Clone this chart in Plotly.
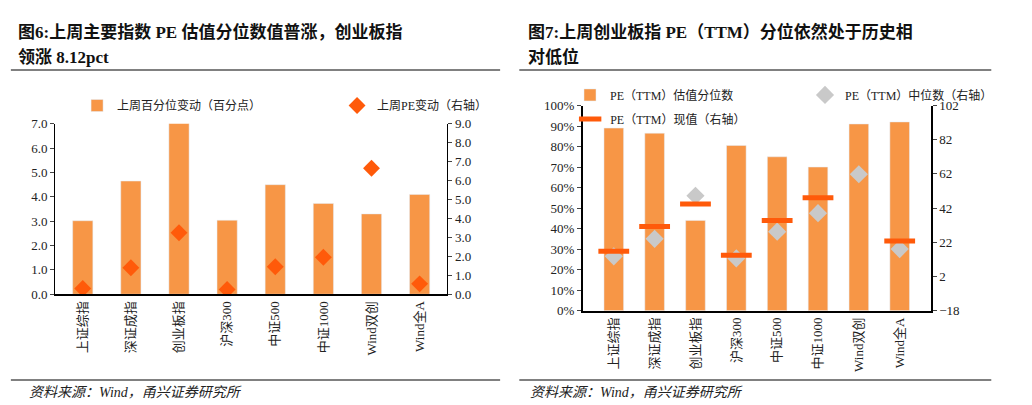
import plotly.graph_objects as go

cats = ["上证综指", "深证成指", "创业板指", "沪深300", "中证500", "中证1000", "Wind双创", "Wind全A"]
pct_change = [3.02, 4.65, 8.12, 3.04, 4.50, 3.73, 3.30, 4.10]
pe_change = [0.30, 1.40, 3.25, 0.25, 1.45, 1.95, 6.65, 0.55]
pe_pct = [0.89, 0.865, 0.44, 0.805, 0.75, 0.70, 0.91, 0.92]
pe_median = [13.8, 24.0, 49.2, 12.6, 28.2, 39.0, 61.8, 18.0]
pe_now = [16.8, 31.2, 44.4, 14.4, 34.8, 48.0, None, 22.8]

W, H = 1032, 405
def px(x): return x / W
def py(y): return 1 - y / H

BAR = "#F79646"
RED = "#FF5A0A"
FONT = "Liberation Serif, Noto Sans CJK SC"

fig = go.Figure()
fig.add_bar(x=cats, y=pct_change, name="上周百分位变动（百分点）", marker_color=BAR,
            width=0.42, xaxis="x", yaxis="y", legend="legend")
fig.add_scatter(x=cats, y=pe_change, name="上周PE变动（右轴）", mode="markers",
                marker=dict(symbol="diamond", size=13, color=RED), xaxis="x", yaxis="y2", legend="legend")
fig.add_bar(x=cats, y=pe_pct, name="PE（TTM）估值分位数", marker_color=BAR,
            width=0.48, xaxis="x3", yaxis="y3", legend="legend2")
fig.add_scatter(x=cats, y=pe_median, name="PE（TTM）中位数（右轴）", mode="markers",
                marker=dict(symbol="diamond", size=14, color="#C9C9C9"), xaxis="x3", yaxis="y4", legend="legend2")
fig.add_scatter(x=cats, y=pe_now, name="PE（TTM）现值（右轴）", mode="markers",
                marker=dict(symbol="line-ew", size=22, line=dict(width=5, color=RED), color=RED),
                xaxis="x3", yaxis="y4", legend="legend3")

tickf = dict(family=FONT, size=13, color="#222")
common_x = dict(type="category", tickangle=-90, showline=True, linecolor="#000", linewidth=1.5,
                ticks="", tickfont=tickf, showgrid=False, fixedrange=True)
legf = dict(family=FONT, size=12, color="#222")
fig.update_layout(
    width=W, height=H, margin=dict(l=0, r=0, t=0, b=0),
    paper_bgcolor="white", plot_bgcolor="white", barmode="overlay",
    font=dict(family=FONT, color="#222"),
    xaxis=dict(domain=[px(49), px(458)], anchor="y", **common_x),
    yaxis=dict(domain=[py(290), py(113)], range=[0, 7], dtick=1, tickformat=".1f",
               showline=True, linecolor="#000", ticks="outside", ticklen=4, tickfont=tickf,
               showgrid=False, zeroline=False),
    yaxis2=dict(overlaying="y", side="right", range=[0, 9], dtick=1, tickformat=".1f",
                showline=True, linecolor="#000", ticks="outside", ticklen=4, tickfont=tickf,
                showgrid=False, zeroline=False, anchor="x"),
    xaxis3=dict(domain=[px(599), px(962)], anchor="y3", **common_x),
    yaxis3=dict(domain=[py(307), py(94)], range=[0, 1], dtick=0.1, tickformat=".0%",
                showline=True, linecolor="#000", linewidth=1.5, ticks="outside", ticklen=4, tickfont=tickf,
                showgrid=False, zeroline=False, anchor="x3"),
    yaxis4=dict(overlaying="y3", side="right", range=[-18, 102], tick0=-18, dtick=20,
                showline=True, linecolor="#000", linewidth=1.5, ticks="outside", ticklen=4, tickfont=tickf,
                showgrid=False, zeroline=False, anchor="x3"),
    legend=dict(orientation="h", x=px(72), xanchor="left", y=py(94), yanchor="middle",
                font=legf, entrywidth=215, itemwidth=30, bgcolor="rgba(0,0,0,0)"),
    legend2=dict(orientation="h", x=px(586), xanchor="left", y=py(83), yanchor="middle",
                 font=legf, entrywidth=190, itemwidth=30, bgcolor="rgba(0,0,0,0)"),
    legend3=dict(orientation="h", x=px(586), xanchor="left", y=py(108), yanchor="middle",
                 font=legf, itemwidth=30, bgcolor="rgba(0,0,0,0)"),
    showlegend=True,
)

shapes = []
for x0, x1 in [(3, 513), (533, 1025)]:
    shapes.append(dict(type="line", xref="paper", yref="paper", x0=px(x0), x1=px(x1), y0=py(57), y1=py(57),
                       line=dict(color="#808080", width=2)))
    shapes.append(dict(type="line", xref="paper", yref="paper", x0=px(x0), x1=px(x1), y0=py(379), y1=py(379),
                       line=dict(color="#808080", width=2)))
fig.update_layout(shapes=shapes)

ann = []
titles = [(8, "<b>图6:上周主要指数 PE 估值分位数值普涨，创业板指</b>", "<b>领涨 8.12pct</b>"),
          (540, "<b>图7:上周创业板指 PE（TTM）分位依然处于历史相</b>", "<b>对低位</b>")]
for x, l1, l2 in titles:
    ann.append(dict(text=l1, x=px(x), y=py(18), xref="paper", yref="paper", xanchor="left", yanchor="middle",
                    showarrow=False, font=dict(family=FONT, size=17, color="#111")))
    ann.append(dict(text=l2, x=px(x), y=py(44), xref="paper", yref="paper", xanchor="left", yanchor="middle",
                    showarrow=False, font=dict(family=FONT, size=17, color="#111")))
for x in [20, 542]:
    ann.append(dict(text="<i>资料来源：Wind，甬兴证券研究所</i>", x=px(x), y=py(392), xref="paper", yref="paper",
                    xanchor="left", yanchor="middle", showarrow=False, font=dict(family=FONT, size=14, color="#222")))
fig.update_layout(annotations=ann)

fig.write_html("out.html")
